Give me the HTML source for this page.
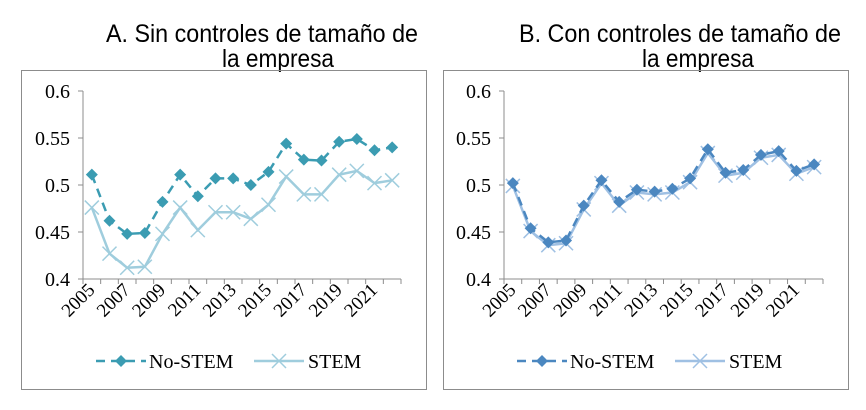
<!DOCTYPE html>
<html><head><meta charset="utf-8"><style>
html,body{margin:0;padding:0;background:#fff;}
svg{display:block;}
</style></head><body>
<svg id="chart" width="866" height="410" xmlns="http://www.w3.org/2000/svg">
<rect x="0" y="0" width="866" height="410" fill="#fff"/>
<text x="262" y="42" font-family="Liberation Sans, sans-serif" font-size="25" text-anchor="middle" textLength="312" lengthAdjust="spacingAndGlyphs">A.  Sin controles de tamaño de</text>
<text x="278" y="67" font-family="Liberation Sans, sans-serif" font-size="25" text-anchor="middle" textLength="112" lengthAdjust="spacingAndGlyphs">la empresa</text>
<text x="680" y="42" font-family="Liberation Sans, sans-serif" font-size="25" text-anchor="middle" textLength="322" lengthAdjust="spacingAndGlyphs">B.  Con controles de tamaño de</text>
<text x="698" y="67" font-family="Liberation Sans, sans-serif" font-size="25" text-anchor="middle" textLength="112" lengthAdjust="spacingAndGlyphs">la empresa</text>
<rect x="21.5" y="70.5" width="405" height="319" fill="none" stroke="#8c8c8c"/>
<rect x="443.5" y="70.5" width="405" height="319" fill="none" stroke="#8c8c8c"/>
<g id="pa"></g>
<g id="pb"></g>
</svg>
<script>
const years = [2005,2006,2007,2008,2009,2010,2011,2012,2013,2014,2015,2016,2017,2018,2019,2020,2021,2022];
const yTicks = [0.4,0.45,0.5,0.55,0.6];
const yTickLabels = ["0.4","0.45","0.5","0.55","0.6"];
const aNoStem = [0.511,0.462,0.448,0.449,0.482,0.511,0.488,0.507,0.507,0.500,0.514,0.544,0.527,0.526,0.546,0.549,0.537,0.540];
const aStem = [0.476,0.427,0.412,0.413,0.448,0.476,0.452,0.471,0.471,0.464,0.479,0.509,0.490,0.490,0.511,0.515,0.502,0.505];
const bNoStem = [0.502,0.454,0.439,0.441,0.478,0.505,0.482,0.495,0.493,0.496,0.507,0.538,0.513,0.516,0.532,0.536,0.515,0.522];
const bStem = [0.499,0.451,0.436,0.438,0.474,0.502,0.478,0.492,0.490,0.492,0.503,0.534,0.510,0.513,0.529,0.532,0.512,0.519];
const NS = "http://www.w3.org/2000/svg";
function mk(tag, attrs, parent){const e=document.createElementNS(NS,tag);for(const k in attrs)e.setAttribute(k,attrs[k]);parent.appendChild(e);return e;}
function panel(g, x0, x1, noStem, stem, cNo, cSt, legX){
  const yTop=91, yBot=279, ymin=0.4, ymax=0.6;
  const sy=v=>yBot-(v-ymin)/(ymax-ymin)*(yBot-yTop);
  const slot=(x1-x0)/years.length;
  const sx=i=>x0+slot*(i+0.5);
  const ff="Liberation Serif, serif";
  let ax=mk('line',{x1:x0,y1:yTop,x2:x0,y2:yBot,stroke:'#8c8c8c'},g);
  
  
  let bx=mk('line',{x1:x0,y1:yBot,x2:x1,y2:yBot,stroke:'#8c8c8c'},g);
  
  
  yTicks.forEach((v,i)=>{
    const y=sy(v);
    mk('line',{x1:x0-5,y1:y,x2:x0,y2:y,stroke:'#8c8c8c'},g);
    const t=mk('text',{x:x0-13,y:y+7,'font-family':ff,'font-size':20,'text-anchor':'end'},g);
    t.textContent=yTickLabels[i];
    
    
  });
  for(let i=0;i<=years.length;i++){const x=x0+slot*i;mk('line',{x1:x,y1:yBot,x2:x,y2:yBot+5,stroke:'#8c8c8c'},g);}
  years.forEach((yr,i)=>{
    if(i%2) return;
    const x=sx(i)+4, y=yBot+12;
    const t=mk('text',{x:x,y:y,'font-family':ff,'font-size':19,'text-anchor':'end',transform:`rotate(-45 ${x} ${y})`},g);
    t.textContent=yr;
    
    
  });
  const ps=stem.map((v,i)=>sx(i)+','+sy(v)).join(' ');
  const l2=mk('polyline',{points:ps,fill:'none',stroke:cSt,'stroke-width':2.5},g);
  
  
  stem.forEach((v,i)=>{const x=sx(i),y=sy(v);
    const m=mk('path',{d:`M${x-7},${y-7}L${x+7},${y+7}M${x-7},${y+7}L${x+7},${y-7}`,stroke:cSt,'stroke-width':1.5},g);
    
    });
  const pn=noStem.map((v,i)=>sx(i)+','+sy(v)).join(' ');
  const l1=mk('polyline',{points:pn,fill:'none',stroke:cNo,'stroke-width':2.5,'stroke-dasharray':'9,6'},g);
  
  
  noStem.forEach((v,i)=>{const x=sx(i),y=sy(v);
    const m=mk('path',{d:`M${x},${y-6}L${x+6},${y}L${x},${y+6}L${x-6},${y}Z`,fill:cNo},g);
    
    });
  const ly=361;
  const lg=mk('g',{},g);
  
  
  mk('line',{x1:legX,y1:ly,x2:legX+50,y2:ly,stroke:cNo,'stroke-width':2.5,'stroke-dasharray':'9,6'},lg);
  mk('path',{d:`M${legX+25},${ly-6}L${legX+31},${ly}L${legX+25},${ly+6}L${legX+19},${ly}Z`,fill:cNo},lg);
  const t1=mk('text',{x:legX+53,y:ly+7,'font-family':ff,'font-size':20},lg);
  t1.textContent='No-STEM';
  
  
  const l2x=legX+158;
  mk('line',{x1:l2x,y1:ly,x2:l2x+50,y2:ly,stroke:cSt,'stroke-width':2.5},lg);
  mk('path',{d:`M${l2x+18},${ly-7}L${l2x+32},${ly+7}M${l2x+18},${ly+7}L${l2x+32},${ly-7}`,stroke:cSt,'stroke-width':1.5},lg);
  const t2=mk('text',{x:l2x+54,y:ly+7,'font-family':ff,'font-size':20},lg);
  t2.textContent='STEM';
  
  
}
panel(document.getElementById('pa'),83,401,aNoStem,aStem,'#3b9cb2','#9fcddd',96);
panel(document.getElementById('pb'),504,823,bNoStem,bStem,'#4b87c0','#9fc0e3',517);
</script>
</body></html>
